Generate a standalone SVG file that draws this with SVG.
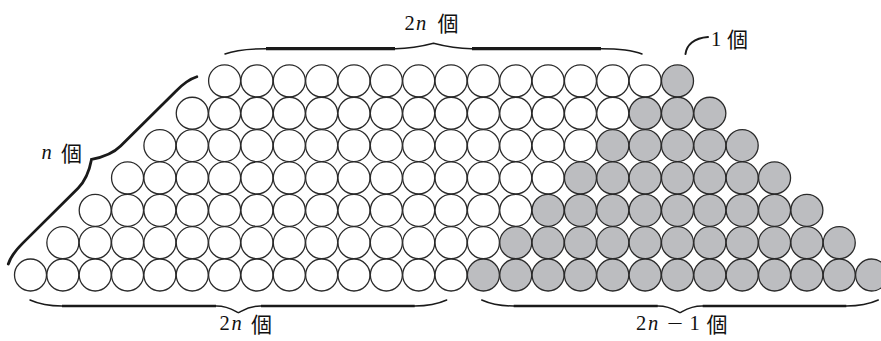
<svg xmlns="http://www.w3.org/2000/svg" width="881" height="341" viewBox="0 0 881 341">
<style>
.w{fill:#ffffff;stroke:#2a2a2a;stroke-width:1.3}
.g{fill:#bcbdc0;stroke:#2a2a2a;stroke-width:1.3}
.br{fill:none;stroke:#1a1a1a;stroke-width:1.5;stroke-linecap:round}
.bt{fill:none;stroke:#1a1a1a;stroke-width:3.2}
.bd{fill:none;stroke:#1a1a1a;stroke-width:2.8;stroke-linecap:round}
.lt{font-family:"Liberation Serif","DejaVu Serif",serif;font-size:20.5px;fill:#111111}
.it{font-style:italic}
.cj{font-family:"Noto Sans CJK JP","Noto Sans CJK SC",sans-serif;font-size:21px;fill:#111111}
</style>
<rect width="881" height="341" fill="#ffffff"/>
<g id="row0">
<circle class="w" cx="224.6" cy="80.9" r="16"/><circle class="w" cx="256.95" cy="80.9" r="16"/><circle class="w" cx="289.3" cy="80.9" r="16"/><circle class="w" cx="321.65" cy="80.9" r="16"/><circle class="w" cx="354" cy="80.9" r="16"/><circle class="w" cx="386.35" cy="80.9" r="16"/><circle class="w" cx="418.7" cy="80.9" r="16"/><circle class="w" cx="451.05" cy="80.9" r="16"/><circle class="w" cx="483.4" cy="80.9" r="16"/><circle class="w" cx="515.75" cy="80.9" r="16"/><circle class="w" cx="548.1" cy="80.9" r="16"/><circle class="w" cx="580.45" cy="80.9" r="16"/><circle class="w" cx="612.8" cy="80.9" r="16"/><circle class="w" cx="645.15" cy="80.9" r="16"/>
<circle class="g" cx="677.5" cy="80.9" r="16"/>
</g>
<g id="row1">
<circle class="w" cx="192.25" cy="113.25" r="16"/><circle class="w" cx="224.6" cy="113.25" r="16"/><circle class="w" cx="256.95" cy="113.25" r="16"/><circle class="w" cx="289.3" cy="113.25" r="16"/><circle class="w" cx="321.65" cy="113.25" r="16"/><circle class="w" cx="354" cy="113.25" r="16"/><circle class="w" cx="386.35" cy="113.25" r="16"/><circle class="w" cx="418.7" cy="113.25" r="16"/><circle class="w" cx="451.05" cy="113.25" r="16"/><circle class="w" cx="483.4" cy="113.25" r="16"/><circle class="w" cx="515.75" cy="113.25" r="16"/><circle class="w" cx="548.1" cy="113.25" r="16"/><circle class="w" cx="580.45" cy="113.25" r="16"/><circle class="w" cx="612.8" cy="113.25" r="16"/>
<circle class="g" cx="645.15" cy="113.25" r="16"/><circle class="g" cx="677.5" cy="113.25" r="16"/><circle class="g" cx="709.85" cy="113.25" r="16"/>
</g>
<g id="row2">
<circle class="w" cx="159.9" cy="145.6" r="16"/><circle class="w" cx="192.25" cy="145.6" r="16"/><circle class="w" cx="224.6" cy="145.6" r="16"/><circle class="w" cx="256.95" cy="145.6" r="16"/><circle class="w" cx="289.3" cy="145.6" r="16"/><circle class="w" cx="321.65" cy="145.6" r="16"/><circle class="w" cx="354" cy="145.6" r="16"/><circle class="w" cx="386.35" cy="145.6" r="16"/><circle class="w" cx="418.7" cy="145.6" r="16"/><circle class="w" cx="451.05" cy="145.6" r="16"/><circle class="w" cx="483.4" cy="145.6" r="16"/><circle class="w" cx="515.75" cy="145.6" r="16"/><circle class="w" cx="548.1" cy="145.6" r="16"/><circle class="w" cx="580.45" cy="145.6" r="16"/>
<circle class="g" cx="612.8" cy="145.6" r="16"/><circle class="g" cx="645.15" cy="145.6" r="16"/><circle class="g" cx="677.5" cy="145.6" r="16"/><circle class="g" cx="709.85" cy="145.6" r="16"/><circle class="g" cx="742.2" cy="145.6" r="16"/>
</g>
<g id="row3">
<circle class="w" cx="127.55" cy="177.95" r="16"/><circle class="w" cx="159.9" cy="177.95" r="16"/><circle class="w" cx="192.25" cy="177.95" r="16"/><circle class="w" cx="224.6" cy="177.95" r="16"/><circle class="w" cx="256.95" cy="177.95" r="16"/><circle class="w" cx="289.3" cy="177.95" r="16"/><circle class="w" cx="321.65" cy="177.95" r="16"/><circle class="w" cx="354" cy="177.95" r="16"/><circle class="w" cx="386.35" cy="177.95" r="16"/><circle class="w" cx="418.7" cy="177.95" r="16"/><circle class="w" cx="451.05" cy="177.95" r="16"/><circle class="w" cx="483.4" cy="177.95" r="16"/><circle class="w" cx="515.75" cy="177.95" r="16"/><circle class="w" cx="548.1" cy="177.95" r="16"/>
<circle class="g" cx="580.45" cy="177.95" r="16"/><circle class="g" cx="612.8" cy="177.95" r="16"/><circle class="g" cx="645.15" cy="177.95" r="16"/><circle class="g" cx="677.5" cy="177.95" r="16"/><circle class="g" cx="709.85" cy="177.95" r="16"/><circle class="g" cx="742.2" cy="177.95" r="16"/><circle class="g" cx="774.55" cy="177.95" r="16"/>
</g>
<g id="row4">
<circle class="w" cx="95.2" cy="210.3" r="16"/><circle class="w" cx="127.55" cy="210.3" r="16"/><circle class="w" cx="159.9" cy="210.3" r="16"/><circle class="w" cx="192.25" cy="210.3" r="16"/><circle class="w" cx="224.6" cy="210.3" r="16"/><circle class="w" cx="256.95" cy="210.3" r="16"/><circle class="w" cx="289.3" cy="210.3" r="16"/><circle class="w" cx="321.65" cy="210.3" r="16"/><circle class="w" cx="354" cy="210.3" r="16"/><circle class="w" cx="386.35" cy="210.3" r="16"/><circle class="w" cx="418.7" cy="210.3" r="16"/><circle class="w" cx="451.05" cy="210.3" r="16"/><circle class="w" cx="483.4" cy="210.3" r="16"/><circle class="w" cx="515.75" cy="210.3" r="16"/>
<circle class="g" cx="548.1" cy="210.3" r="16"/><circle class="g" cx="580.45" cy="210.3" r="16"/><circle class="g" cx="612.8" cy="210.3" r="16"/><circle class="g" cx="645.15" cy="210.3" r="16"/><circle class="g" cx="677.5" cy="210.3" r="16"/><circle class="g" cx="709.85" cy="210.3" r="16"/><circle class="g" cx="742.2" cy="210.3" r="16"/><circle class="g" cx="774.55" cy="210.3" r="16"/><circle class="g" cx="806.9" cy="210.3" r="16"/>
</g>
<g id="row5">
<circle class="w" cx="62.85" cy="242.65" r="16"/><circle class="w" cx="95.2" cy="242.65" r="16"/><circle class="w" cx="127.55" cy="242.65" r="16"/><circle class="w" cx="159.9" cy="242.65" r="16"/><circle class="w" cx="192.25" cy="242.65" r="16"/><circle class="w" cx="224.6" cy="242.65" r="16"/><circle class="w" cx="256.95" cy="242.65" r="16"/><circle class="w" cx="289.3" cy="242.65" r="16"/><circle class="w" cx="321.65" cy="242.65" r="16"/><circle class="w" cx="354" cy="242.65" r="16"/><circle class="w" cx="386.35" cy="242.65" r="16"/><circle class="w" cx="418.7" cy="242.65" r="16"/><circle class="w" cx="451.05" cy="242.65" r="16"/><circle class="w" cx="483.4" cy="242.65" r="16"/>
<circle class="g" cx="515.75" cy="242.65" r="16"/><circle class="g" cx="548.1" cy="242.65" r="16"/><circle class="g" cx="580.45" cy="242.65" r="16"/><circle class="g" cx="612.8" cy="242.65" r="16"/><circle class="g" cx="645.15" cy="242.65" r="16"/><circle class="g" cx="677.5" cy="242.65" r="16"/><circle class="g" cx="709.85" cy="242.65" r="16"/><circle class="g" cx="742.2" cy="242.65" r="16"/><circle class="g" cx="774.55" cy="242.65" r="16"/><circle class="g" cx="806.9" cy="242.65" r="16"/><circle class="g" cx="839.25" cy="242.65" r="16"/>
</g>
<g id="row6">
<circle class="w" cx="30.5" cy="275" r="16"/><circle class="w" cx="62.85" cy="275" r="16"/><circle class="w" cx="95.2" cy="275" r="16"/><circle class="w" cx="127.55" cy="275" r="16"/><circle class="w" cx="159.9" cy="275" r="16"/><circle class="w" cx="192.25" cy="275" r="16"/><circle class="w" cx="224.6" cy="275" r="16"/><circle class="w" cx="256.95" cy="275" r="16"/><circle class="w" cx="289.3" cy="275" r="16"/><circle class="w" cx="321.65" cy="275" r="16"/><circle class="w" cx="354" cy="275" r="16"/><circle class="w" cx="386.35" cy="275" r="16"/><circle class="w" cx="418.7" cy="275" r="16"/><circle class="w" cx="451.05" cy="275" r="16"/>
<circle class="g" cx="483.4" cy="275" r="16"/><circle class="g" cx="515.75" cy="275" r="16"/><circle class="g" cx="548.1" cy="275" r="16"/><circle class="g" cx="580.45" cy="275" r="16"/><circle class="g" cx="612.8" cy="275" r="16"/><circle class="g" cx="645.15" cy="275" r="16"/><circle class="g" cx="677.5" cy="275" r="16"/><circle class="g" cx="709.85" cy="275" r="16"/><circle class="g" cx="742.2" cy="275" r="16"/><circle class="g" cx="774.55" cy="275" r="16"/><circle class="g" cx="806.9" cy="275" r="16"/><circle class="g" cx="839.25" cy="275" r="16"/><circle class="g" cx="871.6" cy="275" r="16"/>
</g>
<g id="braces">
<g id="brace-top" transform="translate(225,48.7)">
<path class="br" d="M0,5.3 C8,2.1 22,0 41,0 L170.5,0 C188,0 202.5,-3.8 208.5,-5.4 C214.5,-3.8 229,0 246.5,0 L376,0 C395,0 409,2.1 417,5.3"/>
<path class="bt" d="M41,0 L170,0 M247,0 L376,0"/>
</g>
<g id="brace-left" transform="translate(5.06,260.74) rotate(-44.8)">
<path class="bd" d="M0,4.6 C6,1.4 14,0 25,0 L102.85,0 C116,0 127,-7 132.85,-11 C138.7,-7 149.7,0 162.85,0 L240.7,0 C251.7,0 259.7,1.4 265.7,4.6"/>
</g>
<g id="brace-bottom-left" transform="translate(30,306) scale(1,-1)">
<path class="br" d="M0,6 C8,2.4 20,0 32,0 L186.35,0 C198,0 204,-4.5 208.35,-6.7 C212.7,-4.5 218.7,0 230.35,0 L384.7,0 C396.7,0 408.7,2.4 416.7,6"/>
<path class="bt" style="stroke-width:2.6" d="M32,0 L186,0 M231,0 L384.7,0"/>
</g>
<g id="brace-bottom-right" transform="translate(481.7,306) scale(1,-1)">
<path class="br" d="M0,6 C8,2.4 20,0 32,0 L176.3,0 C188,0 194,-4.5 198.3,-6.7 C202.6,-4.5 208.6,0 220.3,0 L364.6,0 C376.6,0 388.6,2.4 396.6,6"/>
<path class="bt" style="stroke-width:2.6" d="M32,0 L176,0 M221,0 L364.6,0"/>
</g>
<path id="hook-one" class="br" style="stroke-width:2" d="M685.5,54 C686.5,45 694,38 708,37"/>
</g>
<g id="labels">
<text class="lt" y="30"><tspan x="404.5">2</tspan><tspan class="it" x="416">n</tspan></text>
<text class="cj" x="437.5" y="31">個</text>
<text class="lt" y="46"><tspan x="711">1</tspan></text>
<text class="cj" x="727" y="47">個</text>
<text class="lt" y="159"><tspan class="it" x="41.5">n</tspan></text>
<text class="cj" x="61" y="161">個</text>
<text class="lt" y="330"><tspan x="219.5">2</tspan><tspan class="it" x="231.5">n</tspan></text>
<text class="cj" x="251" y="332">個</text>
<text class="lt" y="330"><tspan x="636">2</tspan><tspan class="it" x="648">n</tspan><tspan x="667" textLength="16" lengthAdjust="spacingAndGlyphs">−</tspan><tspan x="689.5">1</tspan></text>
<text class="cj" x="706.5" y="332">個</text>
</g>
</svg>
